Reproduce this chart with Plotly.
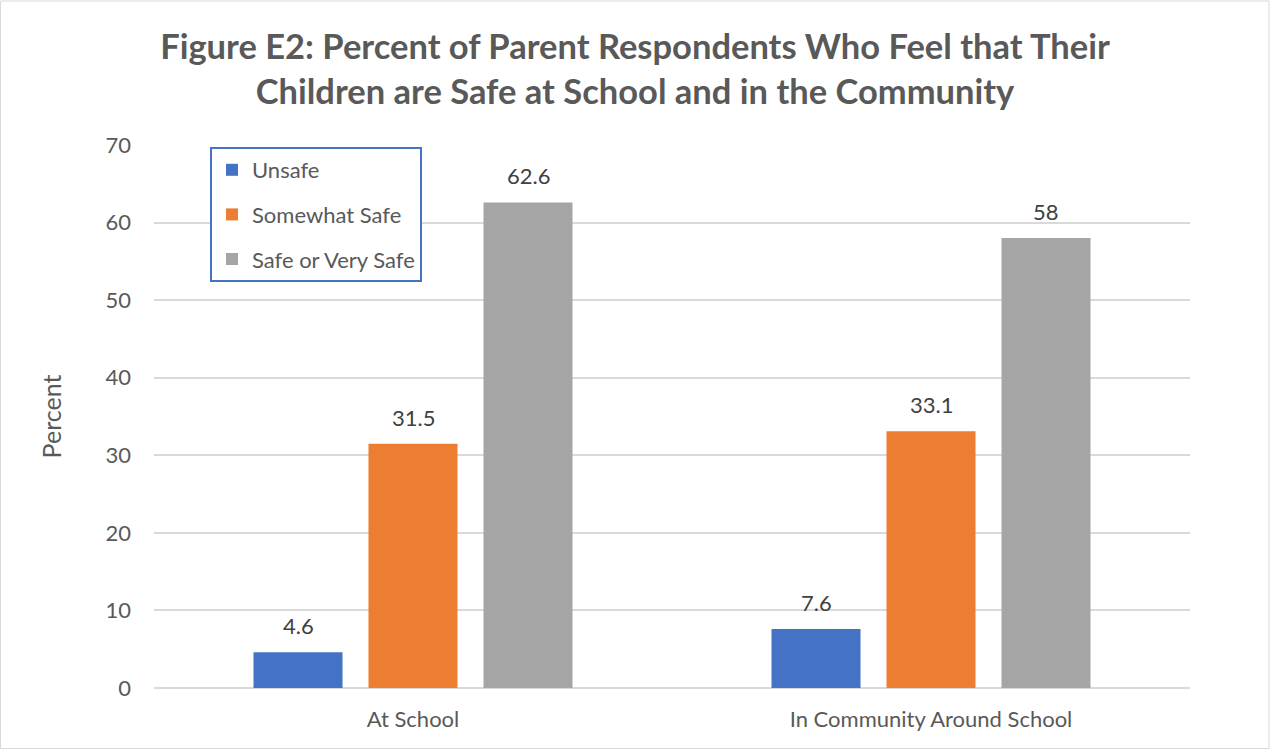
import plotly.graph_objects as go

categories = ["At School", "In Community Around School"]
series_names = ["Unsafe", "Somewhat Safe", "Safe or Very Safe"]
unsafe = [4.6, 7.6]
somewhat_safe = [31.5, 33.1]
safe_very_safe = [62.6, 58]
y_ticks = [0, 10, 20, 30, 40, 50, 60, 70]

colors = ["#4472C4", "#ED7D31", "#A5A5A5"]
values = [unsafe, somewhat_safe, safe_very_safe]

FONT = "Lato, 'Open Sans', sans-serif"
BARGAP = 0.334
GROUPGAP = 0.226

fig = go.Figure()
for name, vals, col in zip(series_names, values, colors):
    fig.add_trace(go.Bar(
        name=name, x=categories, y=vals,
        marker=dict(color=col, line=dict(width=0)),
        legendgroup=name,
    ))

# data labels placed above each bar
slot = (1 - BARGAP) / len(series_names)
annotations = []
for si, vals in enumerate(values):
    for ci, v in enumerate(vals):
        annotations.append(dict(
            x=ci + (si - (len(series_names) - 1) / 2) * slot, y=v,
            xref="x", yref="y", text=f"{v:g}", showarrow=False,
            yanchor="bottom", yshift=11,
            font=dict(size=22, color="#404040", family=FONT),
        ))

L, R, T, B = 154, 80, 145, 61
W, H = 1270, 749
pw, ph = W - L - R, H - T - B

fig.update_layout(
    width=W, height=H,
    margin=dict(l=L, r=R, t=T, b=B, pad=0),
    paper_bgcolor="white", plot_bgcolor="white",
    barmode="group", bargap=BARGAP, bargroupgap=GROUPGAP,
    font=dict(family=FONT, color="#595959", size=22),
    title=dict(
        text="Figure E2: Percent of Parent Respondents Who Feel that Their<br>Children are Safe at School and in the Community",
        x=0.5, xref="container", xanchor="center", y=1 - 59 / H, yanchor="middle",
        font=dict(family=FONT, size=34.5, color="#595959", weight="bold"),
    ),
    xaxis=dict(
        showgrid=False, showline=False, ticks="", zeroline=False,
        tickfont=dict(size=22, color="#595959"), ticklabelstandoff=16,
    ),
    yaxis=dict(
        range=[0, 70], tickvals=y_ticks, showgrid=True, gridcolor="#D9D9D9",
        gridwidth=1.5, zeroline=True, zerolinecolor="#D9D9D9", zerolinewidth=1.5,
        showline=False, ticks="", ticklabelstandoff=22,
        tickfont=dict(size=22, color="#595959"),
        title=dict(text="Percent", font=dict(size=25, color="#595959"), standoff=36),
    ),
    legend=dict(
        x=(210 - L) / pw, y=1 - 2 / ph, xanchor="left", yanchor="top",
        bordercolor="#4472C4", borderwidth=2, bgcolor="white",
        font=dict(size=22, color="#595959"), tracegroupgap=13,
        itemwidth=30,
    ),
    annotations=annotations,
    shapes=[dict(
        type="rect", xref="paper", yref="paper",
        x0=-L / pw + 0.5 / pw, x1=1 + (R - 1) / pw,
        y0=-B / ph + 0.5 / ph, y1=1 + (T - 1) / ph,
        line=dict(color="#D9D9D9", width=1), layer="below",
    )],
)

fig.write_html(
    "out.html",
    config={"displayModeBar": False},
    post_script="document.body.style.margin='0';document.body.style.overflow='hidden';",
)
